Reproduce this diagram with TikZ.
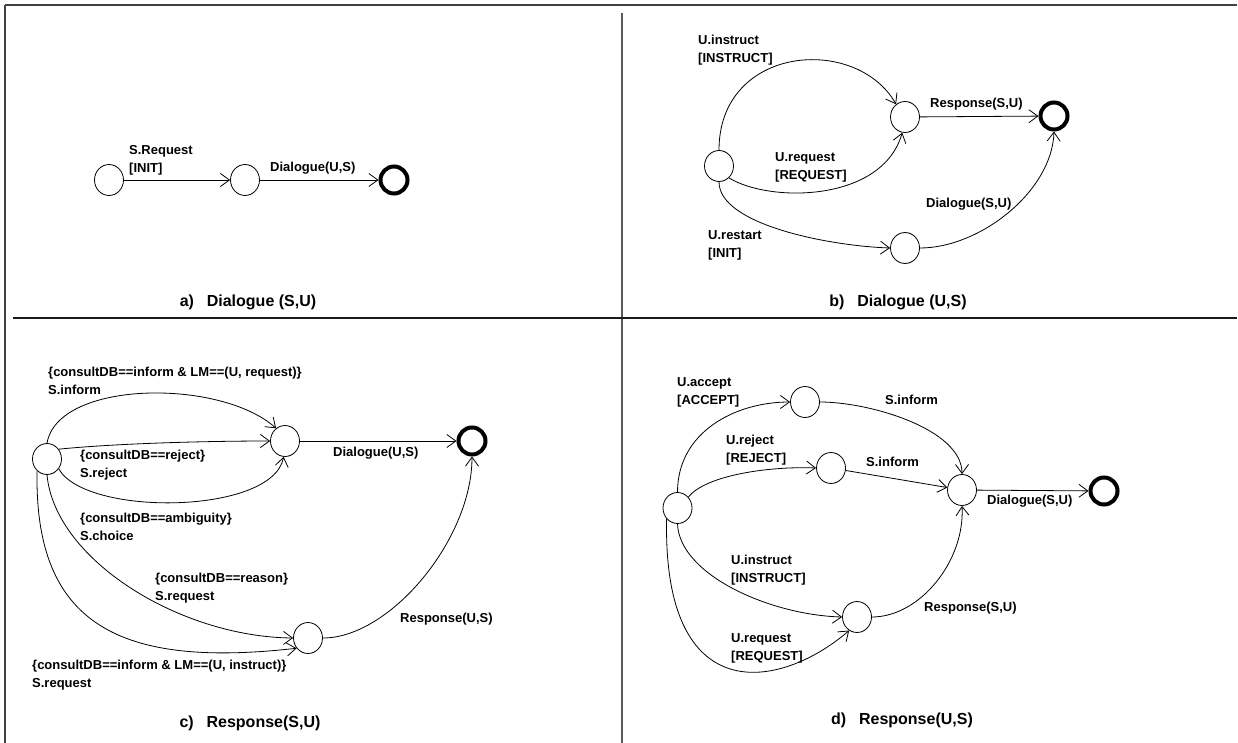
\documentclass[tikz,border=0pt]{standalone}
\usepackage{fontspec}
\setmainfont{Liberation Sans}
\usetikzlibrary{arrows.meta,shapes.geometric}
\begin{document}
\begin{tikzpicture}[x=1pt,y=-1pt,
  st/.style={ellipse,draw,line width=0.8pt,minimum width=29pt,minimum height=31pt,inner sep=0pt},
  fin/.style={circle,draw,line width=4pt,minimum size=27pt,inner sep=0pt},
  arr/.style={line width=0.8pt,-{Straight Barb[length=9pt,width=13pt]}},
  lbl/.style={font=\bfseries\fontsize{13}{18}\selectfont,inner sep=0pt,align=left,anchor=north west},
  captxt/.style={font=\bfseries\fontsize{16}{19}\selectfont,inner sep=0pt},
  frameline/.style={line width=2pt}]
\useasboundingbox (0,0) rectangle (1238,743);

% frame and panel dividers
\draw[frameline,black!75] (5,5) -- (1237,5);
\draw[frameline,black!75] (5,5) -- (5,743);
\draw[frameline,black!65] (622,13) -- (622,743);
\draw[frameline,black!90] (13,318) -- (1237,318);

% ---------- a) Dialogue (S,U)
\node[st]  (a1) at (109,180) {};
\node[st]  (a2) at (245,180) {};
\node[fin] (a3) at (394,180) {};
\draw[arr] (a1) -- (a2);
\draw[arr] (a2) -- (a3);
\node[lbl] (la1) at (129,145) {S.Request\\{[INIT]}};
\node[lbl] (la2) at (270,162) {Dialogue(U,S)};
\node[captxt] (capa) at (248,302) {a)\hspace{0.8em}Dialogue (S,U)};

% ---------- b) Dialogue (U,S)
\node[st]  (b1) at (719,166) {};
\node[st]  (b2) at (905,117) {};
\node[fin] (b3) at (1054,116) {};
\node[st]  (b4) at (905,248) {};
\draw[arr] (b1.north) .. controls +(0,-105) and +(-40,-70) .. (b2.125);
\draw[arr] (b1.-50) .. controls +(40,25) and +(-20,70) .. (b2.-100);
\draw[arr] (b2) -- (b3);
\draw[arr] (b1.south) .. controls +(0,43) and +(-60,-2) .. (b4.west);
\draw[arr] (b4.east) .. controls +(60,0) and +(-2,60) .. (b3.south);
\node[lbl] (lb1) at (698,35) {U.instruct\\{[INSTRUCT]}};
\node[lbl] (lb2) at (775,152) {U.request\\{[REQUEST]}};
\node[lbl] (lb3) at (930,98) {Response(S,U)};
\node[lbl] (lb4) at (708,230) {U.restart\\{[INIT]}};
\node[lbl] (lb5) at (926,198) {Dialogue(S,U)};
\node[captxt] (capb) at (898,302) {b)\hspace{0.8em}Dialogue (U,S)};

% ---------- c) Response(S,U)
\node[st]  (c1) at (47,459) {};
\node[st]  (c2) at (285,441) {};
\node[fin] (c3) at (472,441) {};
\node[st]  (c4) at (308,638) {};
\draw[arr] (c1.north) .. controls +(11,-63) and +(-56,-50) .. (c2.125);
\draw[arr] (c1.40) .. controls +(60,-6) and +(-60,0) .. (c2.west);
\draw[arr] (c1.-40) .. controls +(27,48) and +(-11,58) .. (c2.-95);
\draw[arr] (c2) -- (c3);
\draw[arr] (c1.south) .. controls +(8,85) and +(-113,-1) .. (c4.west);
\draw[arr] (c1.-130) .. controls +(-3,154) and +(-177,20) .. (c4.-138);
\draw[arr] (c4.east) .. controls +(67,0) and +(0,83) .. (c3.south);
\node[lbl] (lc1) at (48,367) {\{consultDB==inform \& LM==(U, request)\}\\S.inform};
\node[lbl] (lc2) at (80,450) {\{consultDB==reject\}\\S.reject};
\node[lbl] (lc3) at (333,447) {Dialogue(U,S)};
\node[lbl] (lc4) at (80,513) {\{consultDB==ambiguity\}\\S.choice};
\node[lbl] (lc5) at (155,573) {\{consultDB==reason\}\\S.request};
\node[lbl] (lc6) at (32,660) {\{consultDB==inform \& LM==(U, instruct)\}\\S.request};
\node[lbl] (lc7) at (400,613) {Response(U,S)};
\node[captxt] (capc) at (250,723) {c)\hspace{0.8em}Response(S,U)};

% ---------- d) Response(U,S)
\node[st]  (d1) at (677.5,508) {};
\node[st]  (d2) at (805,402) {};
\node[st]  (d3) at (831,468) {};
\node[st]  (d4) at (962,490) {};
\node[fin] (d5) at (1104,491) {};
\node[st]  (d6) at (857,617) {};
\draw[arr] (d1.north) .. controls +(0,-60) and +(-55,0) .. (d2.west);
\draw[arr] (d2.east) .. controls +(50,0) and +(0,-45) .. (d4.north);
\draw[arr] (d1.45) .. controls +(17,-22) and +(-46,-2) .. (d3.west);
\draw[arr] (d3) -- (d4);
\draw[arr] (d4) -- (d5);
\draw[arr] (d1.south) .. controls +(2,51) and +(-72,-2) .. (d6.west);
\draw[arr] (d1.-135) .. controls +(-4,191) and +(-70,60) .. (d6.-120);
\draw[arr] (d6.east) .. controls +(48,0) and +(3,55) .. (d4.south);
\node[lbl] (ld1) at (677,377) {U.accept\\{[ACCEPT]}};
\node[lbl] (ld2) at (885,395) {S.inform};
\node[lbl] (ld3) at (726,435) {U.reject\\{[REJECT]}};
\node[lbl] (ld4) at (866,457) {S.inform};
\node[lbl] (ld5) at (987,495) {Dialogue(S,U)};
\node[lbl] (ld6) at (731,555) {U.instruct\\{[INSTRUCT]}};
\node[lbl] (ld7) at (731,633) {U.request\\{[REQUEST]}};
\node[lbl] (ld8) at (924,602) {Response(S,U)};
\node[captxt] (capd) at (902,720) {d)\hspace{0.8em}Response(U,S)};
\end{tikzpicture}
\end{document}
